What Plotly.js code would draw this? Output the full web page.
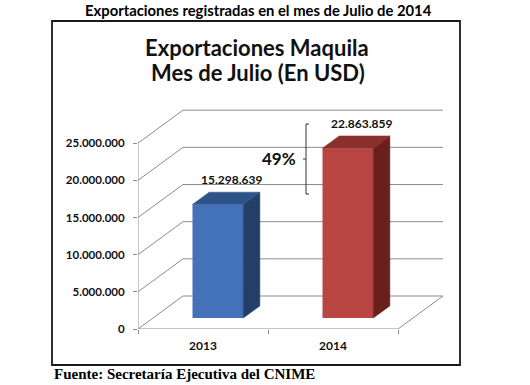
<!DOCTYPE html>
<html>
<head>
<meta charset="utf-8">
<script src="https://cdn.plot.ly/plotly-3.0.1.min.js"></script>
<style>html,body{margin:0;padding:0;background:#fff;}#chart{width:530px;height:385px;}</style>
</head>
<body>
<div id="chart"></div>
<script>
// ---- data ----
const categories = ['2013', '2014'];
const values = [15298639, 22863859];
const tickVals = [0, 5000000, 10000000, 15000000, 20000000, 25000000];
const tickText = ['0', '5.000.000', '10.000.000', '15.000.000', '20.000.000', '25.000.000'];
const changeLabel = '49%';
const mainTitle = 'Exportaciones registradas en el mes de Julio de 2014';
const chartTitle1 = 'Exportaciones Maquila';
const chartTitle2 = 'Mes de Julio (En USD)';
const sourceText = 'Fuente: Secretaría Ejecutiva del CNIME';

// ---- layout geometry ----
const W = 530, H = 385;
const px = x => x / W;
const py = y => 1 - y / H;
const X0 = 138, X1 = 450, YB = 329, YT = 106;
const xRange = [-0.5, 1.9];
const yRange = [0, 30000000];
const pxPerX = (X1 - X0) / (xRange[1] - xRange[0]);
const pxPerY = (YB - YT) / (yRange[1] - yRange[0]);
const DX = 45 / pxPerX;      // full depth in x units
const DY = 33 / pxPerY;      // full depth in y units
const f0 = 0.33, f1 = 0.70;  // bar depth fractions
const barW = 0.39;
const sh = f0 * DX, base = f0 * DY;
const ddx = (f1 - f0) * DX, ddy = (f1 - f0) * DY;
const xL = -0.5, xR = categories.length - 0.5;

const frontCol = ['#4372B9', '#B94543'];
const topCol = ['#2E5388', '#8A2F2D'];
const sideCol = ['#233F68', '#6A1F1D'];
const gridCol = '#8c8c8c';

const fmt = v => v.toString().replace(/\B(?=(\d{3})+(?!\d))/g, '.');

const traces = [];
traces.push({
  type: 'bar',
  x: categories.map((c, i) => i + sh),
  y: values,
  base: values.map(() => base),
  width: barW,
  marker: {color: frontCol, line: {width: 0}},
  hoverinfo: 'skip', showlegend: false
});
values.forEach((v, i) => {
  const x0 = i + sh - barW / 2, x1 = i + sh + barW / 2;
  const top = base + v;
  traces.push({
    type: 'scatter', mode: 'lines', fill: 'toself', fillcolor: sideCol[i],
    line: {width: 0.5, color: sideCol[i]},
    x: [x1, x1 + ddx, x1 + ddx, x1, x1],
    y: [base, base + ddy, top + ddy, top, base],
    hoverinfo: 'skip', showlegend: false
  });
  traces.push({
    type: 'scatter', mode: 'lines', fill: 'toself', fillcolor: topCol[i],
    line: {width: 0.5, color: topCol[i]},
    x: [x0, x1, x1 + ddx, x0 + ddx, x0],
    y: [top, top, top + ddy, top + ddy, top],
    hoverinfo: 'skip', showlegend: false
  });
});

const shapes = [];
tickVals.forEach(t => {
  shapes.push({type: 'line', layer: 'below', xref: 'x', yref: 'y', x0: xL, y0: t, x1: xL + DX, y1: t + DY, line: {color: gridCol, width: 1}});
  shapes.push({type: 'line', layer: 'below', xref: 'x', yref: 'y', x0: xL + DX, y0: t + DY, x1: xR + DX, y1: t + DY, line: {color: gridCol, width: 1}});
});
// floor front + right edge, vertical axis line
shapes.push({type: 'line', layer: 'below', xref: 'x', yref: 'y', x0: xL, y0: 0, x1: xR, y1: 0, line: {color: gridCol, width: 1}});
shapes.push({type: 'line', layer: 'below', xref: 'x', yref: 'y', x0: xR, y0: 0, x1: xR + DX, y1: DY, line: {color: gridCol, width: 1}});
shapes.push({type: 'line', layer: 'below', xref: 'x', yref: 'y', x0: xL, y0: 0, x1: xL, y1: tickVals[tickVals.length - 1], line: {color: gridCol, width: 1}});
// chart border
shapes.push({type: 'rect', xref: 'paper', yref: 'paper', x0: px(52), y0: py(21), x1: px(460), y1: py(365), line: {color: '#1a1a1a', width: 1.8}});
// bracket
const bx = 306, bt = 124, bb = 194, bm = 159;
shapes.push({type: 'path', xref: 'paper', yref: 'paper',
  path: `M ${px(bx+3)} ${py(bt)} L ${px(bx)} ${py(bt)} L ${px(bx)} ${py(bb)} L ${px(bx+3)} ${py(bb)} M ${px(bx-3)} ${py(bm)} L ${px(bx)} ${py(bm)}`,
  line: {color: '#333', width: 1}});

const annotations = [
  {text: '<b>' + mainTitle + '</b>', xref: 'paper', yref: 'paper', x: px(258), y: py(10), xanchor: 'center', yanchor: 'middle', showarrow: false, font: {family: 'Lato', size: 14.8, color: '#000'}},
  {text: '<b>' + chartTitle1 + '</b>', xref: 'paper', yref: 'paper', x: px(257), y: py(47), xanchor: 'center', yanchor: 'middle', showarrow: false, font: {family: 'Lato', size: 22, color: '#111'}},
  {text: '<b>' + chartTitle2 + '</b>', xref: 'paper', yref: 'paper', x: px(258), y: py(73), xanchor: 'center', yanchor: 'middle', showarrow: false, font: {family: 'Lato', size: 22, color: '#111'}},
  {text: '<b>' + changeLabel + '</b>', xref: 'paper', yref: 'paper', x: px(279), y: py(158), xanchor: 'center', yanchor: 'middle', showarrow: false, font: {family: 'Lato', size: 17, color: '#111'}},
  {text: '<b>' + sourceText + '</b>', xref: 'paper', yref: 'paper', x: px(52), y: py(374), xanchor: 'left', yanchor: 'middle', showarrow: false, font: {family: 'Liberation Serif', size: 15, color: '#000'}}
];
values.forEach((v, i) => {
  annotations.push({text: '<b>' + fmt(v) + '</b>', xref: 'x', yref: 'y', x: i + 0.22, y: base + v + 3300000, xanchor: 'center', yanchor: 'middle', showarrow: false, font: {family: 'Lato', size: 12, color: '#111'}});
});

const layout = {
  width: W, height: H,
  margin: {l: 0, r: 0, t: 0, b: 0},
  paper_bgcolor: '#fff', plot_bgcolor: 'rgba(0,0,0,0)',
  showlegend: false,
  xaxis: {
    domain: [px(X0), px(X1)], range: xRange, fixedrange: true,
    showgrid: false, zeroline: false, showline: false,
    tickmode: 'array', tickvals: categories.map((c, i) => i), ticktext: categories,
    ticks: '', ticklabelstandoff: 8, tickfont: {family: 'Lato', size: 12, color: '#111', weight: 'bold'},
    minor: {tickmode: 'array', tickvals: categories.map((c, i) => i - 0.5).concat([xR]), ticks: 'outside', ticklen: 4, tickcolor: gridCol, showgrid: false}
  },
  yaxis: {
    domain: [py(YB), py(YT)], range: yRange, fixedrange: true,
    showgrid: false, zeroline: false, showline: false,
    tickmode: 'array', tickvals: tickVals, ticktext: tickText,
    ticks: 'outside', ticklen: 4, tickcolor: gridCol, ticklabelstandoff: 6,
    tickfont: {family: 'Lato', size: 11.5, color: '#111', weight: 'bold'}
  },
  shapes: shapes,
  annotations: annotations
};

Plotly.newPlot('chart', traces, layout, {displayModeBar: false, staticPlot: true});
</script>
</body>
</html>
